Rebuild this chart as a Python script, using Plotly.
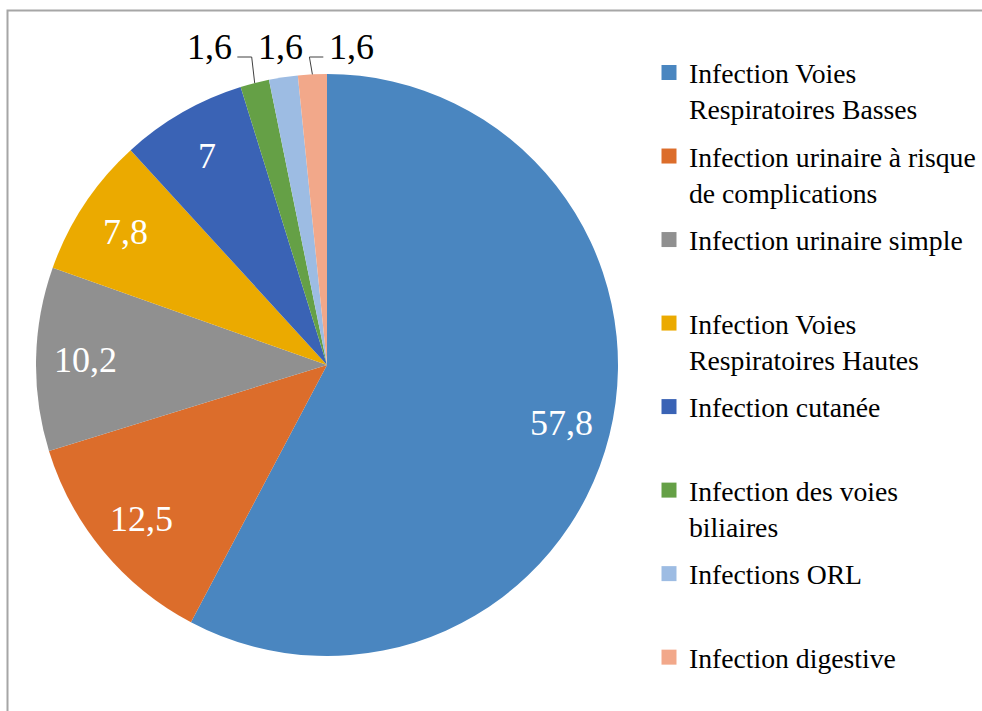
import math
import plotly.graph_objects as go

# ---------------- data ----------------
categories = [
    "Infection Voies Respiratoires Basses",
    "Infection urinaire à risque de complications",
    "Infection urinaire simple",
    "Infection Voies Respiratoires Hautes",
    "Infection cutanée",
    "Infection des voies biliaires",
    "Infections ORL",
    "Infection digestive",
]
legend_labels = [
    "Infection Voies<br>Respiratoires Basses",
    "Infection urinaire à risque<br>de complications",
    "Infection urinaire simple<br>&nbsp;",
    "Infection Voies<br>Respiratoires Hautes",
    "Infection cutanée<br>&nbsp;",
    "Infection des voies<br>biliaires",
    "Infections ORL<br>&nbsp;",
    "Infection digestive",
]
values = [57.8, 12.5, 10.2, 7.8, 7, 1.6, 1.6, 1.6]
colors = ["#4A86C0", "#DC6D2B", "#909090", "#EBAA00",
          "#3A63B5", "#65A046", "#9DBCE3", "#F2A88A"]
value_text = [f"{v:g}".replace(".", ",") for v in values]

# ---------------- geometry (screen pixels) ----------------
W, H = 982, 711
CX, CY, R = 327, 365, 291
FONT = "Liberation Serif"


def px(x):
    return x / W


def py(y):
    return 1 - y / H


fig = go.Figure()
fig.add_trace(go.Pie(
    labels=categories,
    values=values,
    sort=False,
    direction="clockwise",
    rotation=0,
    marker=dict(colors=colors, line=dict(color="white", width=0)),
    textinfo="none",
    hoverinfo="label+value",
    showlegend=False,
    domain=dict(x=[px(CX - R), px(CX + R)], y=[py(CY + R), py(CY - R)]),
))

# legend entries (one per category, built from the same lists)
for i, (lab, col) in enumerate(zip(legend_labels, colors)):
    fig.add_trace(go.Scatter(
        x=[None], y=[None], mode="markers", name=lab, legendgroup=str(i),
        marker=dict(symbol="square", size=15, color=col),
        hoverinfo="skip", showlegend=True,
    ))

# data labels computed from the slice angles
total = sum(values)
annotations = []
shapes = []
cum = 0.0
small = []
for i, v in enumerate(values):
    mid = (cum + v / 2) / total * 2 * math.pi
    cum += v
    dx, dy = math.sin(mid), -math.cos(mid)
    if v >= 5:
        r = 0.83 * R
        annotations.append(dict(
            x=px(CX + dx * r), y=py(CY + dy * r), xref="paper", yref="paper",
            xanchor="center", yanchor="middle",
            text=value_text[i], showarrow=False,
            font=dict(family=FONT, size=36, color="white"),
        ))
    else:
        small.append((i, CX + dx * R, CY + dy * R))

# outside labels for the small slices, spread horizontally
if small:
    mid_idx = len(small) // 2
    base_x = small[mid_idx][1] - 3
    label_y = CY - R - 27
    half_w = 22
    for k, (i, ax, ay) in enumerate(small):
        lx = base_x + (k - mid_idx) * 71
        annotations.append(dict(
            x=px(lx), y=py(label_y), xref="paper", yref="paper",
            xanchor="center", yanchor="middle",
            text=value_text[i], showarrow=False,
            font=dict(family=FONT, size=36, color="black"),
        ))
        if abs(lx - ax) > 20:
            side = 1 if ax > lx else -1
            sx = lx + side * (half_w + 6)
            ey = label_y + 10
            ex = ax - 3
            path = (f"M{px(sx)},{py(ey)} L{px(ex)},{py(ey)} "
                    f"L{px(ax)},{py(ay)}")
            shapes.append(dict(type="path", path=path, xref="paper", yref="paper",
                               line=dict(color="#404040", width=1)))

# chart border (top and left visible)
shapes.append(dict(type="rect", xref="paper", yref="paper",
                   x0=px(7.5), y0=-0.05, x1=1.05, y1=py(10.5),
                   line=dict(color="#A6A6A6", width=2), layer="below"))

fig.update_layout(
    width=W, height=H,
    margin=dict(l=0, r=0, t=0, b=0),
    paper_bgcolor="white", plot_bgcolor="white",
    xaxis=dict(visible=False), yaxis=dict(visible=False),
    font=dict(family=FONT, color="black"),
    annotations=annotations,
    shapes=shapes,
    legend=dict(
        x=px(649), y=py(48), xanchor="left", yanchor="top",
        font=dict(family=FONT, size=27.7, color="black"),
        valign="top", tracegroupgap=8.5, bgcolor="rgba(0,0,0,0)",
        itemclick=False, itemdoubleclick=False,
    ),
)

fig.write_html(
    "out.html",
    config={"displayModeBar": False},
    post_script="document.body.style.margin='0px';document.body.style.overflow='hidden';",
)
